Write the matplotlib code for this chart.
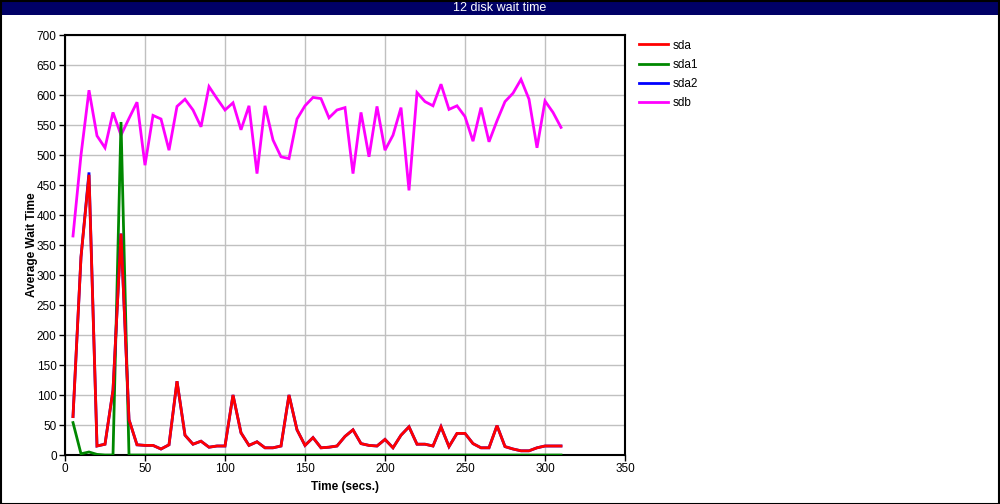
import numpy as np
import matplotlib
matplotlib.use("Agg")
import matplotlib.pyplot as plt
from matplotlib.patches import Rectangle

plt.rcParams['font.family'] = ['Liberation Sans', 'DejaVu Sans']

# time axis, one sample every 5 secs
times = list(range(5, 315, 5))

sda = [64, 330, 467, 15, 18, 108, 369, 59, 17, 16,
       16, 10, 17, 123, 33, 18, 23, 13, 15, 15,
       100, 37, 16, 22, 12, 12, 15, 100, 42, 16,
       29, 12, 13, 15, 31, 42, 19, 16, 15, 26,
       12, 33, 47, 18, 18, 15, 47, 14, 36, 36,
       19, 12, 12, 49, 14, 10, 7, 7, 12, 15,
       15, 15]
sda1 = [54, 2, 5, 1, 0, 0, 555, 0] + [0] * 54
sda2 = [64, 330, 471, 15, 18, 108, 369, 59] + sda[8:]
sdb = [365, 500, 608, 532, 512, 571, 533, 561, 588, 483,
       566, 560, 508, 581, 593, 575, 547, 614, 594, 575,
       587, 542, 582, 469, 582, 525, 497, 494, 560, 582,
       596, 594, 562, 575, 579, 469, 571, 497, 581, 508,
       533, 579, 441, 604, 589, 582, 618, 576, 582, 564,
       523, 579, 522, 557, 589, 603, 626, 593, 512, 590,
       571, 546]

series_names = ['sda', 'sda1', 'sda2', 'sdb']
series_colors = ['#ff0000', '#008800', '#0000ff', '#ff00ff']

fig = plt.figure(figsize=(10, 5.04), dpi=100)
W, H = 1000, 504

# title bar and outer frame
fig.patches.append(Rectangle((0, 1 - 15 / H), 1, 15 / H, transform=fig.transFigure,
                             facecolor='#000066', edgecolor='none'))
fig.patches.append(Rectangle((0.5 / W, 0.5 / H), 1 - 1.5 / W, 1 - 1.0 / H, transform=fig.transFigure,
                             facecolor='none', edgecolor='black', linewidth=1.5))
fig.text(0.5, 1 - 8 / H, '12 disk wait time', color='white', ha='center', va='center', fontsize=9)

ax = fig.add_axes([65 / W, 1 - 455 / H, 560 / W, 420 / H])
data = dict(zip(series_names, [sda, sda1, sda2, sdb]))
zorders = {'sdb': 2, 'sda1': 3, 'sda2': 4, 'sda': 5}
handles = {}
for name, col in zip(series_names, series_colors):
    handles[name], = ax.plot(times, data[name], color=col, linewidth=2, label=name,
                             zorder=zorders[name], solid_joinstyle='miter')

ax.set_xlim(0, 350)
ax.set_ylim(0, 700)
ax.set_xticks(np.arange(0, 351, 50))
ax.set_yticks(np.arange(0, 701, 50))
ax.grid(True, color='#c0c0c0', linewidth=1)
ax.set_axisbelow(True)
for s in ax.spines.values():
    s.set_linewidth(1.5)
ax.tick_params(direction='out', length=4, width=1, labelsize=8.5, pad=2)
ax.set_xlabel('Time (secs.)', fontsize=8.5, fontweight='bold', labelpad=4)
ax.set_ylabel('Average Wait Time', fontsize=8.5, fontweight='bold', labelpad=-1)

fig.legend([handles[n] for n in series_names], series_names,
           loc='upper left', bbox_to_anchor=(628 / W, 1 - 29 / H),
           frameon=False, fontsize=8.5, handlelength=2.45, labelspacing=0.6,
           handletextpad=0.4)

fig.savefig('out.png', dpi=100)
